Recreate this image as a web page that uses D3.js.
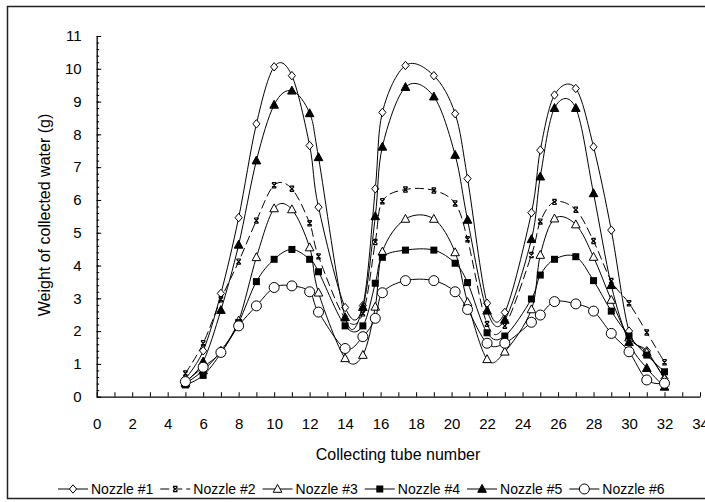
<!DOCTYPE html>
<html lang="en">
  <head>
    <meta charset="UTF-8" />
    <title>Weight of collected water</title>
    <script src="https://cdn.jsdelivr.net/npm/d3@7"></script>
    <style>
      body { margin: 0; background: #fff; }
      text { font-family: "Liberation Sans", Arial, sans-serif; fill: #000; }
    </style>
  </head>
  <body>
    <div id="chart"></div>
    <script>
      // tube positions as plotted on the x axis
      const tubes = [5, 6, 7, 8, 9, 10, 11, 12, 12.5, 14, 15, 15.7, 16.1, 17.4, 19, 20.2, 20.9,
                     22, 23, 24.5, 25, 25.8, 27, 28, 29, 30, 31, 32];

      // weight of collected water (g) for each nozzle
      const nozzle1 = [0.55, 1.4, 3.15, 5.46, 8.32, 10.06, 9.79, 7.66, 5.78, 2.72, 2.78, 6.34, 8.67, 10.1, 9.79, 8.63, 6.65,
                       2.85, 2.57, 5.61, 7.52, 9.2, 9.4, 7.62, 5.08, 2.0, 1.4, 0.55];
      const nozzle2 = [0.71, 1.63, 2.97, 4.12, 5.37, 6.45, 6.34, 5.29, 4.28, 2.39, 2.54, 4.72, 5.96, 6.32, 6.29, 5.89, 4.8,
                       2.22, 2.16, 4.32, 5.34, 5.94, 5.7, 4.75, 3.53, 2.85, 1.96, 1.05];
      const nozzle3 = [0.4, 0.8, 1.4, 2.32, 4.25, 5.74, 5.71, 4.55, 3.17, 1.17, 1.27, 2.74, 4.42, 5.42, 5.42, 4.4, 2.88,
                       1.14, 1.37, 2.66, 4.32, 5.43, 5.25, 4.26, 2.95, 1.8, 1.35, 0.55];
      const nozzle4 = [0.36, 0.65, 1.33, 2.26, 3.51, 4.19, 4.49, 4.19, 3.81, 2.16, 2.16, 3.46, 4.25, 4.47, 4.47, 4.07, 3.48,
                       1.95, 1.85, 2.98, 3.71, 4.19, 4.27, 3.54, 2.61, 1.85, 1.27, 0.76];
      const nozzle5 = [0.45, 1.07, 2.64, 4.63, 7.2, 8.9, 9.33, 8.64, 7.3, 2.42, 2.73, 5.5, 7.62, 9.44, 9.15, 7.37, 5.39,
                       2.62, 2.34, 4.8, 6.71, 8.8, 8.8, 6.2, 3.4, 1.66, 0.87, 0.3];
      const nozzle6 = [0.46, 0.9, 1.35, 2.16, 2.77, 3.33, 3.38, 3.2, 2.58, 1.47, 1.83, 2.39, 3.17, 3.54, 3.54, 3.2, 2.66,
                       1.63, 1.63, 2.27, 2.49, 2.9, 2.83, 2.61, 1.93, 1.37, 0.51, 0.41];

      const seriesNames = ["Nozzle #1", "Nozzle #2", "Nozzle #3", "Nozzle #4", "Nozzle #5", "Nozzle #6"];
      const seriesValues = [nozzle1, nozzle2, nozzle3, nozzle4, nozzle5, nozzle6];
      const seriesMarkers = ["diamond", "cross", "triangleOpen", "square", "triangle", "circle"];

      const xTickLabels = [0, 2, 4, 6, 8, 10, 12, 14, 16, 18, 20, 22, 24, 26, 28, 30, 32, 34];
      const yTickLabels = [0, 1, 2, 3, 4, 5, 6, 7, 8, 9, 10, 11];

      const width = 705, height = 502;
      const svg = d3.select("#chart").append("svg")
                    .attr("width", width)
                    .attr("height", height);

      svg.append("rect")
         .attr("width", width).attr("height", height)
         .attr("fill", "#fff");

      // outer frame (right edge runs off the picture)
      svg.append("rect")
         .attr("x", 7.5).attr("y", 6.5)
         .attr("width", 720).attr("height", 492)
         .attr("fill", "none")
         .attr("stroke", "#222")
         .attr("stroke-width", 1.5);

      const x = d3.scaleLinear().domain([0, 34]).range([96.7, 700]);
      const y = d3.scaleLinear().domain([0, 11]).range([396.7, 36]);

      // minor y ticks every 0.2
      svg.append("g")
         .attr("transform", "translate(96.7,0)")
         .call(d3.axisLeft(y).tickValues(d3.range(0, 11.01, 0.2)).tickSizeInner(-2.5).tickSizeOuter(0).tickFormat(""))
         .call(g => g.select(".domain").remove())
         .call(g => g.selectAll("line").attr("stroke", "#000"));

      // y axis
      svg.append("g")
         .attr("transform", "translate(96.7,0)")
         .call(d3.axisLeft(y).tickValues(yTickLabels).tickSizeInner(-4.5).tickSizeOuter(0).tickPadding(15))
         .call(g => g.select(".domain").attr("stroke", "#000").attr("stroke-width", 1.3))
         .call(g => g.selectAll("line").attr("stroke", "#000"))
         .call(g => g.selectAll("text").attr("font-size", 15).attr("font-family", "Liberation Sans, Arial, sans-serif"));

      // x axis, a tick on every tube, a label every second one
      svg.append("g")
         .attr("transform", "translate(0,396.7)")
         .call(d3.axisBottom(x).tickValues(d3.range(0, 35, 1)).tickSizeInner(-4.5).tickSizeOuter(0).tickPadding(22)
                 .tickFormat(d => xTickLabels.includes(d) ? d : ""))
         .call(g => g.select(".domain").attr("stroke", "#000").attr("stroke-width", 1.3))
         .call(g => g.selectAll("line").attr("stroke", "#000"))
         .call(g => g.selectAll("text").attr("font-size", 15).attr("font-family", "Liberation Sans, Arial, sans-serif"));

      svg.append("text")
         .attr("x", 398).attr("y", 460)
         .attr("text-anchor", "middle")
         .attr("font-size", 16)
         .text("Collecting tube number");

      svg.append("text")
         .attr("transform", "translate(50,215) rotate(-90)")
         .attr("text-anchor", "middle")
         .attr("font-size", 16)
         .text("Weight of collected water (g)");

      function drawMarker(g, type, cx, cy) {
        if (type === "diamond") {
          g.append("path").attr("d", `M${cx},${cy - 4.2}L${cx + 3.6},${cy}L${cx},${cy + 4.2}L${cx - 3.6},${cy}Z`)
           .attr("fill", "#fff").attr("stroke", "#000").attr("stroke-width", 1);
        } else if (type === "cross") {
          g.append("path").attr("d", `M${cx - 2.2},${cy - 2.2}L${cx + 2.2},${cy + 2.2}M${cx + 2.2},${cy - 2.2}L${cx - 2.2},${cy + 2.2}M${cx - 2.2},${cy - 2.6}H${cx + 2.2}M${cx - 2.2},${cy + 2.6}H${cx + 2.2}`)
           .attr("fill", "none").attr("stroke", "#000").attr("stroke-width", 1.2);
        } else if (type === "triangleOpen" || type === "triangle") {
          g.append("path").attr("d", `M${cx},${cy - 4.6}L${cx + 4.3},${cy + 3.3}L${cx - 4.3},${cy + 3.3}Z`)
           .attr("fill", type === "triangle" ? "#000" : "#fff").attr("stroke", "#000").attr("stroke-width", 1);
        } else if (type === "square") {
          g.append("rect").attr("x", cx - 3.5).attr("y", cy - 3.5).attr("width", 7).attr("height", 7)
           .attr("fill", "#000");
        } else if (type === "circle") {
          g.append("circle").attr("cx", cx).attr("cy", cy).attr("r", 5)
           .attr("fill", "#fff").attr("stroke", "#000").attr("stroke-width", 1);
        }
      }

      const line = d3.line()
                     .x(d => x(d[0]))
                     .y(d => y(d[1]))
                     .curve(d3.curveCardinal.tension(0));

      seriesValues.forEach((vals, i) => {
        const pts = tubes.map((t, j) => [t, vals[j]]);
        const g = svg.append("g");
        g.append("path")
         .attr("d", line(pts))
         .attr("fill", "none")
         .attr("stroke", "#000")
         .attr("stroke-width", 1)
         .attr("stroke-dasharray", seriesMarkers[i] === "cross" ? "9,4" : null);
        pts.forEach(p => drawMarker(g, seriesMarkers[i], x(p[0]), y(p[1])));
      });

      // legend
      const legend = svg.append("g");
      let lx = 58;
      const ly = 489;
      seriesNames.forEach((name, i) => {
        const g = legend.append("g");
        g.append("line")
         .attr("x1", lx).attr("x2", lx + 30).attr("y1", ly).attr("y2", ly)
         .attr("stroke", "#000").attr("stroke-width", 1)
         .attr("stroke-dasharray", seriesMarkers[i] === "cross" ? "9,4" : null);
        drawMarker(g, seriesMarkers[i], lx + 15, ly);
        const t = g.append("text")
                   .attr("x", lx + 33).attr("y", ly + 5)
                   .attr("font-size", 14)
                   .text(name);
        lx += 33 + t.node().getComputedTextLength() + 7;
      });
    </script>
  </body>
</html>
